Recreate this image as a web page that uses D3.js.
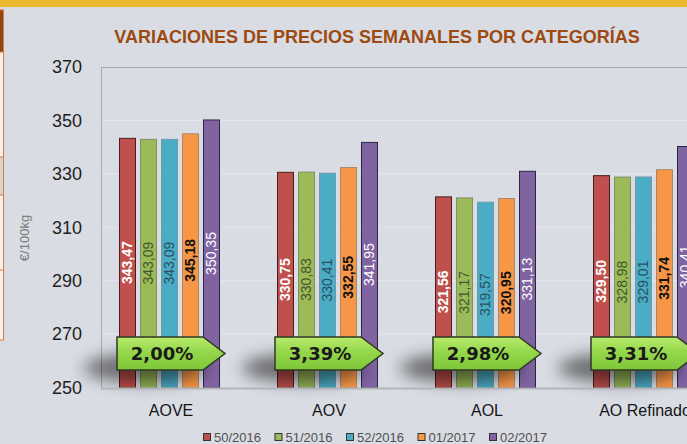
<!DOCTYPE html>
<head>
  <meta charset="utf-8">
  <script src="https://cdnjs.cloudflare.com/ajax/libs/d3/7.8.5/d3.min.js"></script>
  <style>
    body { margin:0; background:#d9dce3; }
    #vis { width:687px; height:444px; }
    text { font-family: "Liberation Sans", Arial, sans-serif; }
  </style>
</head>
<body>
  <div id="vis"></div>
  <script>
    // data
    var categories = ["AOVE", "AOV", "AOL", "AO Refinado"];
    var weeks = ["50/2016", "51/2016", "52/2016", "01/2017", "02/2017"];
    var w50_2016 = [343.47, 330.75, 321.56, 329.50];
    var w51_2016 = [343.09, 330.83, 321.17, 328.98];
    var w52_2016 = [343.09, 330.41, 319.57, 329.01];
    var w01_2017 = [345.18, 332.55, 320.95, 331.74];
    var w02_2017 = [350.35, 341.95, 331.13, 340.41];
    var variation = ["2,00%", "3,39%", "2,98%", "3,31%"];
    var yTicks = [250, 270, 290, 310, 330, 350, 370];

    var series = [w50_2016, w51_2016, w52_2016, w01_2017, w02_2017];

    // styles
    var fills   = ["#c0504d", "#9bbb59", "#4bacc6", "#f79646", "#8064a2"];
    var strokes = ["#4a1c1b", "#7f8f6a", "#6f9aa6", "#a9886a", "#2e2440"];
    var labelCol = ["#ffffff", "#44562c", "#28505f", "#111111", "#ffffff"];
    var labelWt  = ["bold", "normal", "normal", "bold", "normal"];

    var width = 687, height = 444;
    var svg = d3.select("#vis").append("svg")
      .attr("width", width)
      .attr("height", height);

    var defs = svg.append("defs");
    defs.append("filter").attr("id", "blur")
      .attr("x", "-50%").attr("y", "-100%").attr("width", "200%").attr("height", "300%")
      .append("feGaussianBlur").attr("stdDeviation", 8);
    var grad = defs.append("linearGradient").attr("id", "calloutGrad")
      .attr("x1", 0).attr("y1", 0).attr("x2", 0).attr("y2", 1);
    grad.append("stop").attr("offset", "0%").attr("stop-color", "#b9ea6e");
    grad.append("stop").attr("offset", "45%").attr("stop-color", "#94d84a");
    grad.append("stop").attr("offset", "100%").attr("stop-color", "#7fc63a");

    // background & decoration
    svg.append("rect").attr("width", width).attr("height", height).attr("fill", "#d9dce3");
    svg.append("rect").attr("width", width).attr("height", 7).attr("fill", "#ebb92d");

    var strip = svg.append("g");
    strip.append("rect").attr("x", -2).attr("y", 10).attr("width", 5.5).attr("height", 330)
      .attr("fill", "#f4f1ee").attr("stroke", "#e0793a");
    strip.append("rect").attr("x", -2).attr("y", 10).attr("width", 5.5).attr("height", 42)
      .attr("fill", "#8a4a16").attr("stroke", "#e0793a");
    strip.append("rect").attr("x", -2).attr("y", 157).attr("width", 5.5).attr("height", 38)
      .attr("fill", "#d8d4d0").attr("stroke", "#e0793a");
    strip.append("line").attr("x1", 0).attr("x2", 4).attr("y1", 270).attr("y2", 270)
      .attr("stroke", "#e0793a");

    // title
    svg.append("text")
      .attr("x", 377).attr("y", 43)
      .attr("text-anchor", "middle")
      .style("font-size", "18px").style("font-weight", "bold")
      .style("fill", "#9c4a12")
      .text("VARIACIONES DE PRECIOS SEMANALES POR CATEGORÍAS");

    // scales
    var x = d3.scaleBand().domain(categories).range([101, 733]);
    var xSub = d3.scaleBand().domain(weeks).range([18, 119]).paddingInner(4 / 21);
    var y = d3.scaleLinear().domain([250, 370]).range([387.5, 67]);

    // grid
    svg.append("g").selectAll("line").data(yTicks.slice(1, -1)).enter().append("line")
      .attr("x1", 101).attr("x2", width)
      .attr("y1", function(d) { return y(d); }).attr("y2", function(d) { return y(d); })
      .attr("stroke", "#e3e5ea").attr("stroke-width", 1.2);

    // plot frame
    svg.append("line").attr("x1", 101).attr("x2", width).attr("y1", 67.5).attr("y2", 67.5)
      .attr("stroke", "#a8aab0");
    svg.append("line").attr("x1", 101.5).attr("x2", 101.5).attr("y1", 67).attr("y2", 389)
      .attr("stroke", "#a8aab0");

    // y axis
    var yAxis = d3.axisLeft(y).tickValues(yTicks).tickSize(0).tickPadding(0);
    var ya = svg.append("g").attr("transform", "translate(82,0)").call(yAxis);
    ya.select(".domain").remove();
    ya.selectAll("text").style("font-size", "18px").style("fill", "#1e1e1e")
      .style("font-family", "'Liberation Sans', Arial, sans-serif");

    svg.append("text")
      .attr("transform", "translate(29,238) rotate(-90)")
      .attr("text-anchor", "middle")
      .style("font-size", "13px").style("fill", "#7a7a7a")
      .text("€/100kg");

    // bars
    var groups = svg.append("g").selectAll("g").data(categories).enter().append("g")
      .attr("transform", function(d) { return "translate(" + x(d) + ",0)"; });

    groups.selectAll("rect").data(function(c, ci) {
        return series.map(function(s, si) { return { w: weeks[si], v: s[ci], i: si }; });
      })
      .enter().append("rect")
      .attr("x", function(d) { return xSub(d.w) + 0.5; })
      .attr("y", function(d) { return y(d.v) + 0.5; })
      .attr("width", xSub.bandwidth() - 1)
      .attr("height", function(d) { return y(250) - y(d.v); })
      .attr("fill", function(d) { return fills[d.i]; })
      .attr("stroke", function(d) { return strokes[d.i]; })
      .attr("stroke-width", 1);

    // shadows under the callouts
    groups.append("ellipse")
      .attr("cx", 45).attr("cy", 368)
      .attr("rx", 62).attr("ry", 15)
      .attr("fill", "#000").attr("opacity", 0.5)
      .attr("filter", "url(#blur)");

    // value labels
    groups.selectAll("text.val").data(function(c, ci) {
        return series.map(function(s, si) { return { w: weeks[si], v: s[ci], i: si }; });
      })
      .enter().append("text").attr("class", "val")
      .attr("transform", function(d) {
        return "translate(" + (xSub(d.w) + xSub.bandwidth() / 2) + "," + ((y(d.v) + y(250)) / 2) + ") rotate(-90)";
      })
      .attr("text-anchor", "middle")
      .attr("dy", "0.35em")
      .style("font-size", "14px")
      .style("font-weight", function(d) { return labelWt[d.i]; })
      .style("fill", function(d) { return labelCol[d.i]; })
      .text(function(d) { return d.v.toFixed(2).replace(".", ","); });

    // percentage callouts
    var cTop = 337, cBot = 370, cL = 16, cR = 102, cTip = 124;
    groups.append("path")
      .attr("d", function() {
        var m = (cTop + cBot) / 2;
        return "M" + cL + "," + cTop + "L" + cR + "," + cTop + "L" + cTip + "," + m +
               "L" + cR + "," + cBot + "L" + cL + "," + cBot + "Z";
      })
      .attr("fill", "url(#calloutGrad)")
      .attr("stroke", "#2f3a22").attr("stroke-width", 1.5);
    groups.append("text")
      .attr("x", (cL + cR) / 2 + 2).attr("y", (cTop + cBot) / 2)
      .attr("dy", "0.36em")
      .attr("text-anchor", "middle")
      .style("font-family", "'DejaVu Sans', sans-serif")
      .style("font-size", "18px").style("font-weight", "bold")
      .style("fill", "#1a1a1a")
      .text(function(d, i) { return variation[i]; });

    // bottom axis line
    svg.append("line").attr("x1", 101).attr("x2", width).attr("y1", 388.5).attr("y2", 388.5)
      .attr("stroke", "#b3b5ba").attr("stroke-width", 2);

    // category labels
    svg.append("g").selectAll("text").data(categories).enter().append("text")
      .attr("x", function(d) { return x(d) + 70; })
      .attr("y", 416)
      .attr("text-anchor", "middle")
      .style("font-size", "16px").style("fill", "#151515")
      .text(function(d) { return d; });

    // legend
    var leg = svg.append("g").selectAll("g").data(weeks).enter().append("g")
      .attr("transform", function(d, i) { return "translate(" + (203 + i * 71.5) + ",0)"; });
    leg.append("rect")
      .attr("x", 0.5).attr("y", 433.5).attr("width", 7).attr("height", 7)
      .attr("fill", function(d, i) { return fills[i]; })
      .attr("stroke", "#333");
    leg.append("text")
      .attr("x", 11).attr("y", 442)
      .style("font-size", "13px").style("fill", "#505050")
      .text(function(d) { return d; });
  </script>
</body>
